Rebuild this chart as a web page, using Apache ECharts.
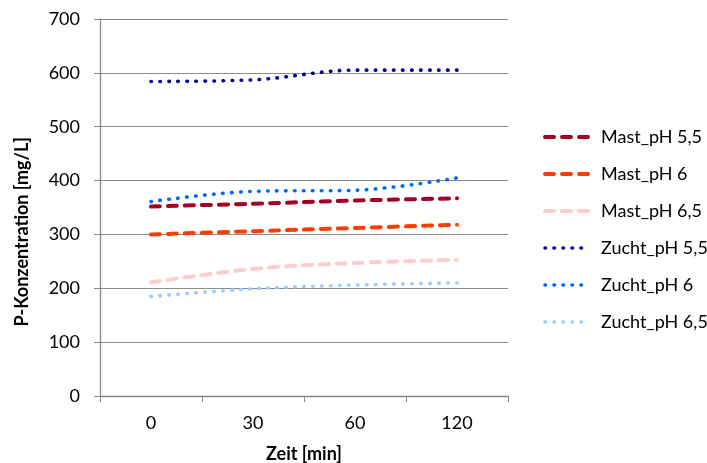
<!DOCTYPE html>
<html><head><meta charset="utf-8">
<script src="https://cdn.jsdelivr.net/npm/echarts@6/dist/echarts.min.js"></script>
<style>html,body{margin:0;padding:0;background:#fff}#c{width:707px;height:463px}</style>
</head><body><div id="c"></div>
<script>
const categories = ['0', '30', '60', '120'];
const seriesNames = ['Mast_pH 5,5', 'Mast_pH 6', 'Mast_pH 6,5', 'Zucht_pH 5,5', 'Zucht_pH 6', 'Zucht_pH 6,5'];
const mast55 = [352, 357, 363, 367];
const mast6 = [300, 306, 312, 318];
const mast65 = [211, 236, 247, 253];
const zucht55 = [584, 587, 605, 605];
const zucht6 = [361, 380, 382, 405];
const zucht65 = [185, 199, 206, 210];
const yTicks = [0, 100, 200, 300, 400, 500, 600, 700];

const values = [mast55, mast6, mast65, zucht55, zucht6, zucht65];
const colors = ['#A50021', '#FF3D00', '#FFCCCC', '#000099', '#0066FF', '#99CCFF'];
const FONT = 'Lato';
const dashStyle = (c) => ({ color: c, width: 4, type: [9, 8], cap: 'round' });
const dotStyle = (c) => ({ color: c, width: 3.6, type: [0.5, 8.5], cap: 'round' });

const series = values.map((d, i) => ({
  name: seriesNames[i], type: 'line', data: d, smooth: 0.35,
  symbol: 'none', color: colors[i],
  lineStyle: i < 3 ? dashStyle(colors[i]) : dotStyle(colors[i]),
  itemStyle: { color: colors[i] }
}));

const chart = echarts.init(document.getElementById('c'), null, { renderer: 'canvas' });
chart.setOption({
  animation: false,
  backgroundColor: '#fff',
  textStyle: { fontFamily: FONT },
  grid: { left: 100, right: 199, top: 19, bottom: 67, containLabel: false, outerBoundsMode: 'none' },
  xAxis: {
    type: 'category', data: categories, boundaryGap: true,
    name: 'Zeit [min]', nameLocation: 'middle', nameGap: 49,
    nameTextStyle: { fontFamily: FONT, fontSize: 18, fontWeight: 'bold', color: '#000' },
    axisLine: { lineStyle: { color: '#888', width: 1.3 } },
    axisTick: { show: true, alignWithLabel: false, length: 6, lineStyle: { color: '#888' } },
    axisLabel: { fontFamily: FONT, fontSize: 18, color: '#000', margin: 18 },
    splitLine: { show: false }
  },
  yAxis: {
    type: 'value', min: yTicks[0], max: yTicks[yTicks.length - 1], interval: 100,
    axisLine: { show: true, lineStyle: { color: '#888', width: 1.3 } },
    axisTick: { show: true, length: 6, lineStyle: { color: '#888' } },
    axisLabel: { fontFamily: FONT, fontSize: 18, color: '#000', margin: 20 },
    splitLine: { show: true, lineStyle: { color: '#8c8c8c', width: 1.2 } }
  },
  legend: {
    orient: 'vertical', left: 538, top: 123, itemGap: 19,
    itemWidth: 45, itemHeight: 18,
    itemStyle: { opacity: 0 },
    textStyle: { fontFamily: FONT, fontSize: 18, color: '#000', padding: [0, 0, 0, 6] },
    data: seriesNames.map((n, i) => ({
      name: n,
      lineStyle: i < 3 ? dashStyle(colors[i]) : dotStyle(colors[i])
    }))
  },
  graphic: [{
    type: 'text', left: 13, top: 137, rotation: Math.PI / 2,
    style: { text: 'P-Konzentration [mg/L]', font: 'bold 18px Lato', fill: '#000' }
  }],
  series: series
});
</script></body></html>
